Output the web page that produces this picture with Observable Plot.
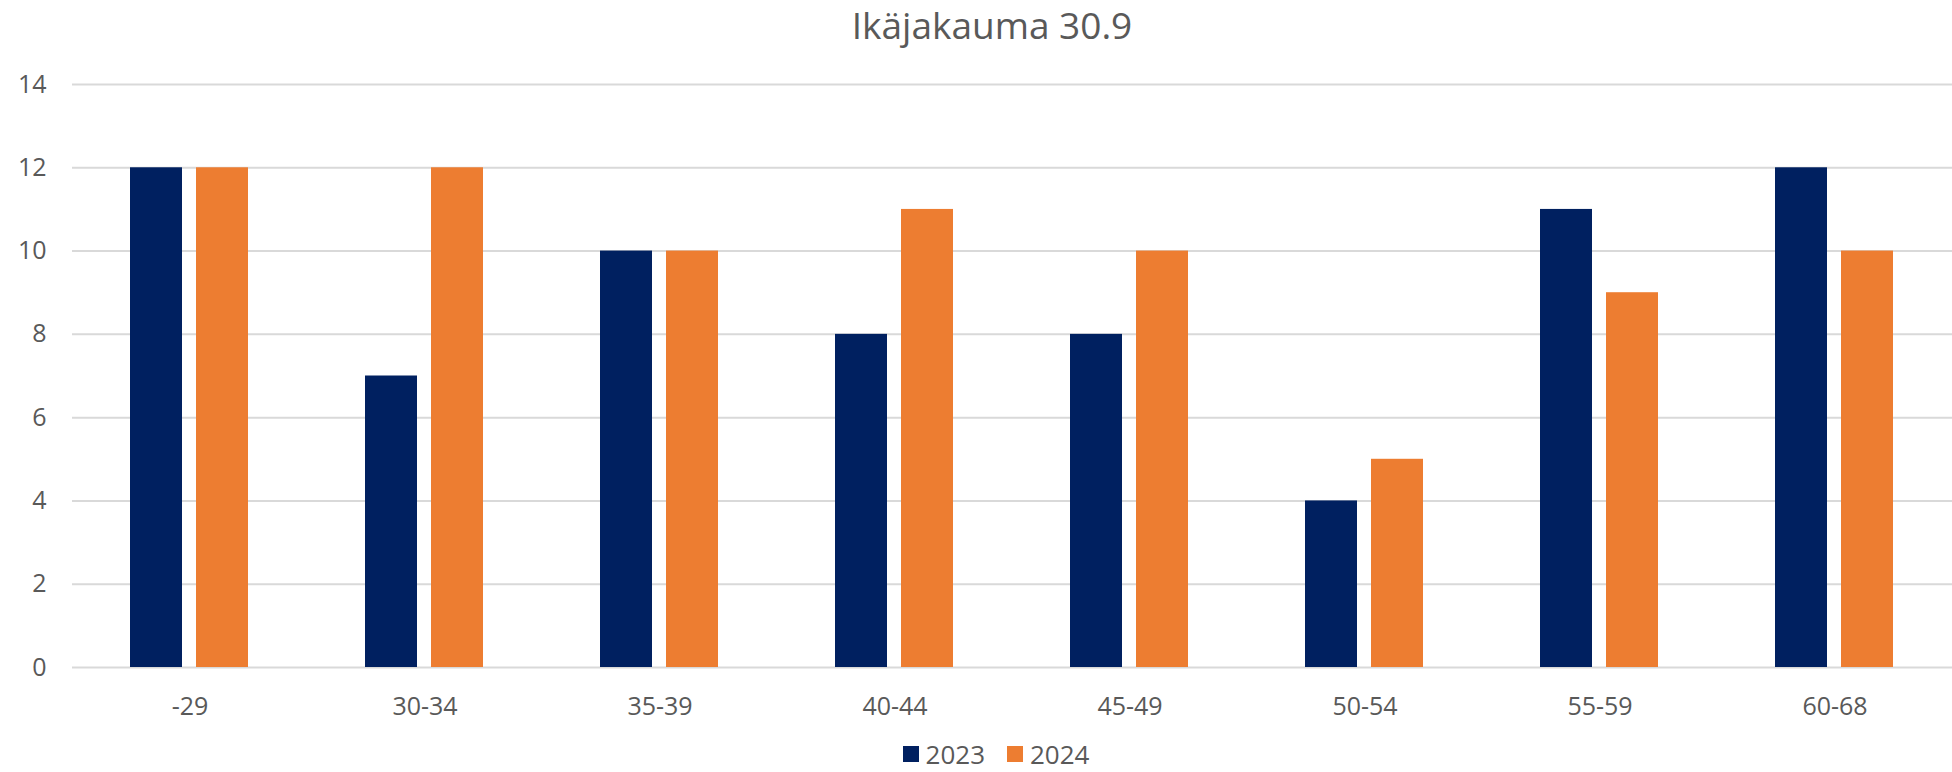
<!DOCTYPE html>
<html>
<head>
<meta charset="utf-8">
<script src="https://cdn.jsdelivr.net/npm/d3@7"></script>
<script src="https://cdn.jsdelivr.net/npm/@observablehq/plot@0.6"></script>
<style>
  html, body { margin: 0; padding: 0; background: #fff; }
  body { width: 1952px; height: 772px; overflow: hidden; font-family: "Open Sans", sans-serif; color: #595959; }
  #title { height: 50px; line-height: 50px; margin-bottom: 6px; font-size: 37px; text-align: center; padding-left: 32px; color: #595959; }
  #legend { height: 36px; display: flex; justify-content: center; align-items: center; gap: 22px; font-size: 26px; padding-left: 40px; }
  .item { display: flex; align-items: center; gap: 7px; }
  .sw { width: 16px; height: 16px; display: inline-block; }
</style>
</head>
<body>
<div id="title">Ikäjakauma 30.9</div>
<div id="chart"></div>
<div id="legend"></div>
<script>
const categories = ["-29", "30-34", "35-39", "40-44", "45-49", "50-54", "55-59", "60-68"];
const series = ["2023", "2024"];
const values2023 = [12, 7, 10, 8, 8, 4, 11, 12];
const values2024 = [12, 12, 10, 11, 10, 5, 9, 10];
const colors = ["#002060", "#ED7D31"];
const yTicks = [0, 2, 4, 6, 8, 10, 12, 14];

const data = [];
categories.forEach((c, i) => {
  data.push({cat: c, year: series[0], value: values2023[i]});
  data.push({cat: c, year: series[1], value: values2024[i]});
});

const chart = Plot.plot({
  width: 1952,
  height: 680,
  marginLeft: 72,
  marginRight: 0,
  marginTop: 28,
  marginBottom: 69,
  style: {fontFamily: "Open Sans, sans-serif", fontSize: "25px", color: "#595959", background: "#fff"},
  fx: {domain: categories, padding: 0, label: null, tickSize: 0, tickPadding: 30, axis: "bottom"},
  x: {domain: series, paddingInner: 0.209, paddingOuter: 0.859, axis: null},
  y: {domain: [0, 14], ticks: yTicks, tickSize: 0, tickPadding: 26, label: null},
  color: {domain: series, range: colors},
  marks: [
    Plot.ruleY(yTicks, {stroke: "#d9d9d9", strokeWidth: 2}),
    Plot.barY(data, {fx: "cat", x: "year", y: "value", fill: "year"})
  ]
});
document.getElementById("chart").appendChild(chart);

const legend = document.getElementById("legend");
series.forEach((s, i) => {
  const item = document.createElement("div");
  item.className = "item";
  const sw = document.createElement("span");
  sw.className = "sw";
  sw.style.background = colors[i];
  const t = document.createElement("span");
  t.textContent = s;
  item.appendChild(sw);
  item.appendChild(t);
  legend.appendChild(item);
});
</script>
</body>
</html>
